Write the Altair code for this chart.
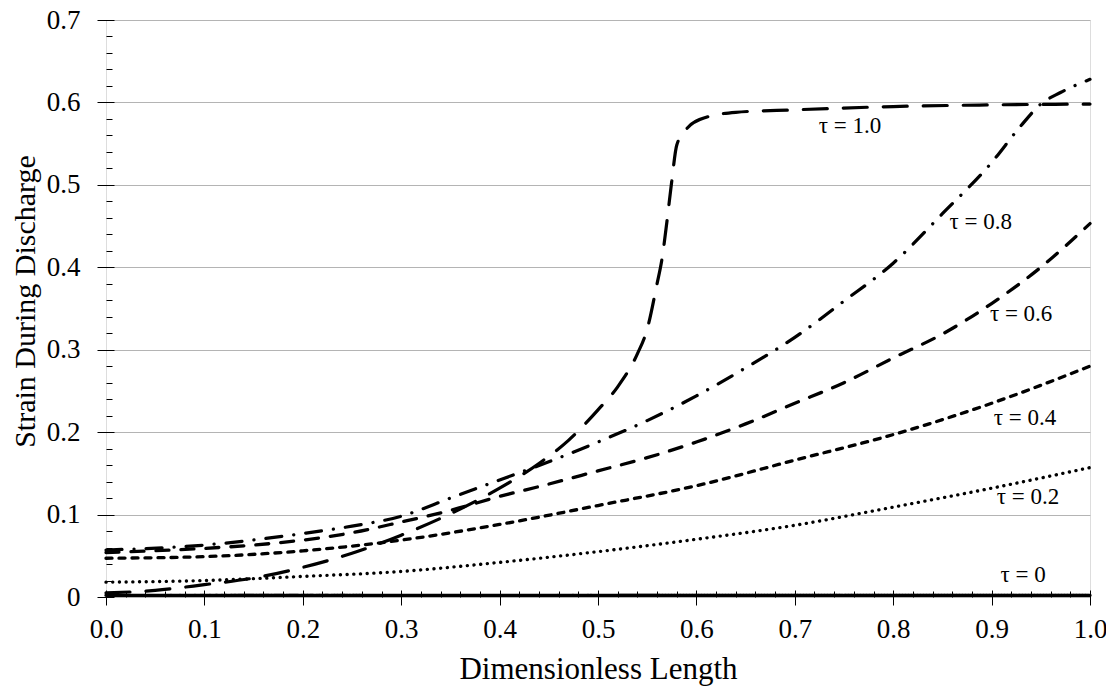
import altair as alt
import pandas as pd

# ---- data ----
series = ["τ = 0", "τ = 0.2", "τ = 0.4", "τ = 0.6", "τ = 0.8", "τ = 1.0"]

x_t0 = [0.0, 0.25, 0.5, 0.75, 1.0]
y_t0 = [0.002, 0.002, 0.002, 0.002, 0.002]

x_t02 = [0.0, 0.1, 0.2, 0.3, 0.4, 0.5, 0.6, 0.7, 0.8, 0.9, 1.0]
y_t02 = [0.018, 0.020, 0.025, 0.031, 0.042, 0.055, 0.070, 0.087, 0.109, 0.132, 0.157]

x_t04 = [0.0, 0.1, 0.2, 0.3, 0.4, 0.5, 0.6, 0.7, 0.8, 0.9, 1.0]
y_t04 = [0.047, 0.049, 0.056, 0.069, 0.088, 0.111, 0.135, 0.166, 0.197, 0.235, 0.280]

x_t06 = [0.0, 0.1, 0.15, 0.2, 0.25, 0.3, 0.35, 0.4, 0.45, 0.5, 0.55, 0.6, 0.65, 0.7,
         0.75, 0.8, 0.85, 0.9, 0.95, 1.0]
y_t06 = [0.054, 0.059, 0.063, 0.069, 0.078, 0.091, 0.105, 0.122, 0.137, 0.153, 0.169,
         0.188, 0.210, 0.235, 0.260, 0.290, 0.319, 0.356, 0.400, 0.453]

x_t08 = [0.0, 0.1, 0.2, 0.25, 0.3, 0.35, 0.4, 0.45, 0.5, 0.55, 0.6, 0.65, 0.7, 0.75,
         0.8, 0.85, 0.9, 0.93, 0.95, 0.97, 1.0]
y_t08 = [0.057, 0.063, 0.077, 0.086, 0.098, 0.120, 0.142, 0.164, 0.188, 0.214, 0.244,
         0.278, 0.315, 0.359, 0.405, 0.465, 0.527, 0.572, 0.598, 0.612, 0.628]

x_t10 = [0.0, 0.05, 0.1, 0.15, 0.2, 0.25, 0.3, 0.35, 0.4, 0.44, 0.47, 0.5, 0.52, 0.54,
         0.55, 0.56, 0.565, 0.57, 0.575, 0.58, 0.59, 0.61, 0.64, 0.7, 0.8, 0.9, 1.0]
y_t10 = [0.005, 0.008, 0.015, 0.023, 0.036, 0.053, 0.075, 0.101, 0.132, 0.162, 0.190,
         0.227, 0.255, 0.295, 0.325, 0.380, 0.410, 0.455, 0.505, 0.548, 0.568, 0.582,
         0.588, 0.591, 0.595, 0.597, 0.598]

label_text = ["τ = 1.0", "τ = 0.8", "τ = 0.6", "τ = 0.4", "τ = 0.2", "τ = 0"]
label_x = [0.756, 0.889, 0.930, 0.934, 0.937, 0.932]
label_y = [0.572, 0.455, 0.343, 0.217, 0.121, 0.027]

x_major = [0.0, 0.1, 0.2, 0.3, 0.4, 0.5, 0.6, 0.7, 0.8, 0.9, 1.0]
x_minor = [round(i * 0.02, 2) for i in range(51)]
y_major = [0.0, 0.1, 0.2, 0.3, 0.4, 0.5, 0.6, 0.7]
y_minor = [round(i * 0.02, 2) for i in range(36)]

# ---- tables ----
rows = []
for name, xs, ys in zip(series, [x_t0, x_t02, x_t04, x_t06, x_t08, x_t10],
                        [y_t0, y_t02, y_t04, y_t06, y_t08, y_t10]):
    for i, (a, b) in enumerate(zip(xs, ys)):
        rows.append({"series": name, "x": a, "y": b, "order": i})
df = pd.DataFrame(rows)
labels_df = pd.DataFrame({"text": label_text, "x": label_x, "y": label_y})

FONT = "Liberation Serif"
W, H = 984, 577

xscale = alt.Scale(domain=[0, 1], nice=False, zero=False)
yscale = alt.Scale(domain=[0, 0.7], nice=False)

dash_scale = alt.Scale(domain=series,
                       range=[[1, 0], [0.1, 6.6], [6, 7], [13, 12], [16, 12, 0.1, 12], [24, 16]])
width_scale = alt.Scale(domain=series, range=[3.4, 3.2, 3.5, 3.5, 3.5, 3.9])

# grid layer (behind everything)
grid_layer = alt.Chart(df).mark_line(opacity=0).encode(
    x=alt.X("x:Q", scale=xscale, axis=None),
    y=alt.Y("y:Q", scale=yscale,
            axis=alt.Axis(orient="left", values=y_major, grid=True, gridColor="#b4b4b4",
                          gridWidth=1, ticks=False, labels=False, domain=False, title=None)),
    detail="series:N",
)

# minor (inside) ticks
minor_layer = alt.Chart(df).mark_line(opacity=0).encode(
    x=alt.X("x:Q", scale=xscale,
            axis=alt.Axis(orient="bottom", values=x_minor, offset=-6, tickSize=6,
                          tickColor="black", tickWidth=1, labels=False, domain=False,
                          grid=False, title=None)),
    y=alt.Y("y:Q", scale=yscale,
            axis=alt.Axis(orient="left", values=y_minor, offset=-6, tickSize=6,
                          tickColor="black", tickWidth=1, labels=False, domain=False,
                          grid=False, title=None)),
    detail="series:N",
)

# data lines + major (crossing) ticks, labels and titles
lines = alt.Chart(df).mark_line(color="black", strokeCap="round", interpolate="monotone").encode(
    x=alt.X("x:Q", scale=xscale,
            axis=alt.Axis(orient="bottom", values=x_major, offset=-7, tickSize=15,
                          tickColor="black", tickWidth=1, format=".1f",
                          labelFont=FONT, labelFontSize=27, labelColor="black",
                          labelPadding=11, labelFlush=False, domain=False, grid=False,
                          title="Dimensionless Length", titleFont=FONT, titleFontSize=31,
                          titleFontWeight="normal", titleColor="black",
                          titleY=88, titleBaseline="alphabetic")),
    y=alt.Y("y:Q", scale=yscale,
            axis=alt.Axis(orient="left", values=y_major, offset=-8, tickSize=17,
                          tickColor="black", tickWidth=1,
                          labelExpr="datum.value == 0 ? '0' : format(datum.value, '.1f')",
                          labelFont=FONT, labelFontSize=27, labelColor="black",
                          labelPadding=17, labelFlush=False, domain=False, grid=False,
                          title="Strain During Discharge", titleFont=FONT, titleFontSize=30,
                          titleFontWeight="normal", titleColor="black",
                          titleX=-80, titleY=281, titleBaseline="alphabetic")),
    detail="series:N",
    order="order:Q",
    strokeDash=alt.StrokeDash("series:N", scale=dash_scale, legend=None),
    strokeWidth=alt.StrokeWidth("series:N", scale=width_scale, legend=None),
)

texts = alt.Chart(labels_df).mark_text(font=FONT, fontSize=23, color="black",
                                       align="center", baseline="middle").encode(
    x=alt.X("x:Q", scale=xscale, axis=None),
    y=alt.Y("y:Q", scale=yscale, axis=None),
    text="text:N",
)

chart = alt.layer(grid_layer, minor_layer, lines, texts).resolve_axis(
    x="independent", y="independent"
).properties(
    width=W, height=H,
    autosize=alt.AutoSizeParams(type="none"),
    padding={"left": 98, "top": 12, "right": 16, "bottom": 90},
).configure_view(stroke="black", strokeWidth=2).configure(background="white")

chart.save("out.html", embed_options={"renderer": "svg", "actions": False})
